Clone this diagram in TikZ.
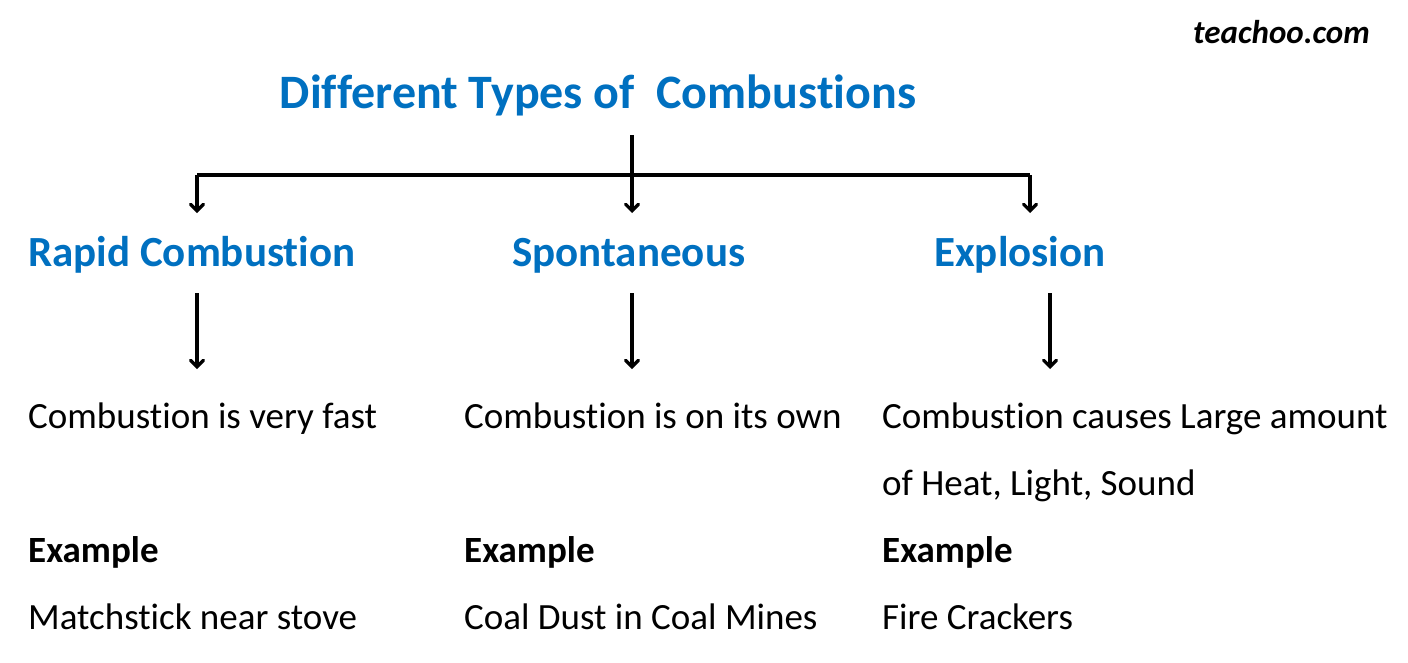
\documentclass[tikz,border=0pt]{standalone}
\usepackage{fontspec}
\setmainfont[Ligatures=NoCommon]{Carlito}
\usetikzlibrary{arrows}
\definecolor{headblue}{RGB}{0,112,192}
\tikzset{
 head/.style={anchor=base west, text=headblue, font=\fontsize{43}{50}\selectfont\bfseries, inner sep=0},
 body/.style={anchor=base west, font=\fontsize{37}{44}\selectfont, inner sep=0},
 exlabel/.style={body, font=\fontsize{37}{44}\selectfont\bfseries},
 arr/.style={black, line width=3.2pt, ->, >=angle 90},
}
\begin{document}
\begin{tikzpicture}[x=1pt, y=-1pt]
\useasboundingbox (0,0) rectangle (1408,662);
\node[anchor=base, text=headblue, font=\fontsize{48}{56}\selectfont\bfseries, inner sep=0] (title) at (598,108) {Different Types of \ Combustions};
\node[anchor=base west, font=\fontsize{33}{40}\selectfont\bfseries\itshape, inner sep=0] (logo) at (1193,43) {teachoo.com};
% headings
\node[head] (rapid) at (28,266) {Rapid Combustion};
\node[head] (spont) at (512,266) {Spontaneous};
\node[head] (expl) at (934,266) {Explosion};
% tree
\coordinate (top) at (632,135);
\coordinate (hub) at (632,175);
\coordinate (left) at (197,175);
\coordinate (right) at (1030,175);
\draw[arr] (top) -- (632,213);
\draw[black, line width=3.2pt] (left) -- (right);
\draw[arr] (left) -- (197,213);
\draw[arr] (right) -- (1030,213);
\foreach \x in {197,632,1050} {
 \draw[arr] (\x,293) -- (\x,369);
}
% text below
\node[body] (fast) at (28,428) {Combustion is very fast};
\node[body] (own) at (464,428) {Combustion is on its own};
\node[body] (heat) at (882,428) {Combustion causes Large amount};
\node[body] (heat2) at (882,495) {of Heat, Light, Sound};
\foreach \x/\n in {28/a,464/b,882/c} {
 \node[exlabel] (ex\n) at (\x,562) {Example};
}
\node[body] (match) at (28,629) {Matchstick near stove};
\node[body] (coal) at (464,629) {Coal Dust in Coal Mines};
\node[body] (fire) at (882,629) {Fire Crackers};
\end{tikzpicture}
\end{document}
